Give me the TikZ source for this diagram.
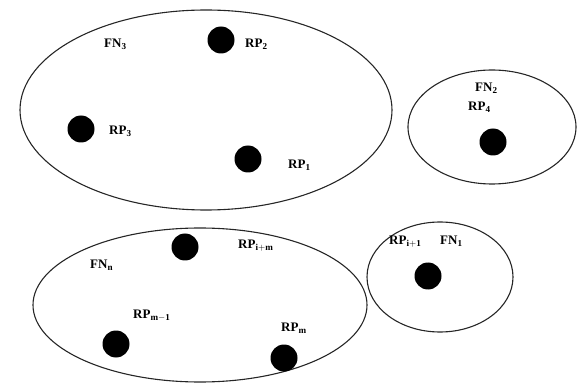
\documentclass[tikz,border=0pt]{standalone}
\usepackage{fontspec}
\setmainfont{Liberation Serif}
\begin{document}
\begin{tikzpicture}[x=1pt,y=-1pt,
  region/.style={draw=black!85,line width=1.1pt},
  rp/.style={circle,fill=black,minimum size=27pt,inner sep=0pt},
  lbl/.style={font=\bfseries\fontsize{13}{15}\selectfont,inner sep=0pt,anchor=west}]
\useasboundingbox (0,0) rectangle (579,385);
\draw[region] (206,110) ellipse [x radius=186,y radius=100];
\draw[region] (492,127) ellipse [x radius=84,y radius=57];
\draw[region] (200,305) ellipse [x radius=167,y radius=77];
\draw[region] (440,277) ellipse [x radius=73,y radius=55];
\node[rp] (d2) at (221,40) {};
\node[rp] (d3) at (81,129) {};
\node[rp] (d1) at (248,159) {};
\node[rp] (d4) at (493,142) {};
\node[rp] (dim) at (185,247) {};
\node[rp] (di1) at (428,276) {};
\node[rp] (dm1) at (116,344) {};
\node[rp] (dm) at (284,358) {};
\node[lbl] (fn3) at (104,44) {FN$_\mathbf{3}$};
\node[lbl] (rp2) at (245,44) {RP$_\mathbf{2}$};
\node[lbl] (rp3) at (109,131) {RP$_\mathbf{3}$};
\node[lbl] (rp1) at (288,165) {RP$_\mathbf{1}$};
\node[lbl] (fn2) at (475,88) {FN$_\mathbf{2}$};
\node[lbl] (rp4) at (468,107) {RP$_\mathbf{4}$};
\node[lbl] (fnn) at (90,265) {FN$_\mathbf{n}$};
\node[lbl] (rpim) at (238,246) {RP$_{\mathbf{i+m}}$};
\node[lbl] (rpi1) at (389,242) {RP$_{\mathbf{i+1}}$};
\node[lbl] (fn1) at (440,241) {FN$_\mathbf{1}$};
\node[lbl] (rpm1) at (133,316) {RP$_{\mathbf{m-1}}$};
\node[lbl] (rpm) at (281,328) {RP$_\mathbf{m}$};
\end{tikzpicture}
\end{document}
